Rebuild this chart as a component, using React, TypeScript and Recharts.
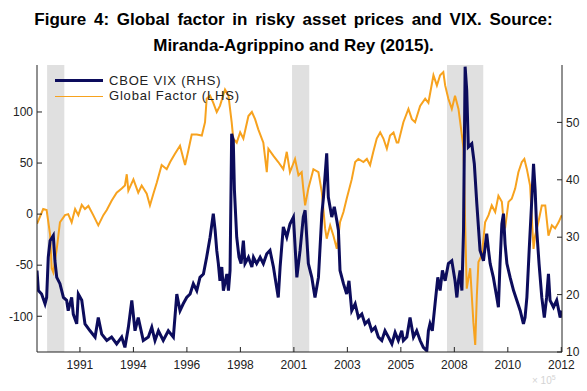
import { ComposedChart, Line, XAxis, YAxis, ReferenceArea } from 'recharts'

// ─── Data ────────────────────────────────────────────────────────────────────

const gfYears = [
  1990.06, 1990.33, 1990.48, 1990.63, 1990.7, 1990.77, 1990.92, 1991.06, 1991.28, 1991.42,
  1991.57, 1991.72, 1991.86, 1992.01, 1992.15, 1992.3, 1992.51, 1992.73, 1992.95, 1993.1,
  1993.31, 1993.53, 1993.75, 1993.89, 1993.97, 1994.04, 1994.26, 1994.47, 1994.62, 1994.84,
  1994.98, 1995.13, 1995.28, 1995.49, 1995.71, 1995.86, 1996.07, 1996.29, 1996.44, 1996.51,
  1996.65, 1996.8, 1997.02, 1997.24, 1997.38, 1997.45, 1997.6, 1997.74, 1997.89, 1998.03,
  1998.25, 1998.4, 1998.54, 1998.61, 1998.76, 1998.91, 1999.05, 1999.27, 1999.42, 1999.56,
  1999.7, 1999.92, 2000.07, 2000.14, 2000.36, 2000.57, 2000.79, 2000.94, 2001.08, 2001.3,
  2001.45, 2001.59, 2001.66, 2001.74, 2001.88, 2002.1, 2002.32, 2002.47, 2002.61, 2002.68,
  2002.83, 2002.97, 2003.12, 2003.26, 2003.41, 2003.55, 2003.77, 2003.92, 2004.06, 2004.28,
  2004.43, 2004.57, 2004.71, 2004.86, 2005.01, 2005.15, 2005.3, 2005.44, 2005.59, 2005.73,
  2005.8, 2006.02, 2006.24, 2006.39, 2006.53, 2006.75, 2006.97, 2007.11, 2007.33, 2007.48,
  2007.62, 2007.76, 2007.84, 2007.98, 2008.13, 2008.27, 2008.42, 2008.57, 2008.64, 2008.71,
  2008.78, 2008.93, 2009.07, 2009.15, 2009.22, 2009.29, 2009.44, 2009.58, 2009.73, 2009.87,
  2010.02, 2010.16, 2010.31, 2010.38, 2010.45, 2010.6, 2010.74, 2010.89, 2011.03, 2011.18,
  2011.29, 2011.4, 2011.54, 2011.69, 2011.76, 2011.9, 2012.05, 2012.2, 2012.34, 2012.49,
  2012.63, 2012.78, 2012.92,
]
const gfValues = [
  -9.5, 5, 4, -20, -53, -57, -34, -8, -1, 0,
  -8, 5, -1, 9, 5, 8, -1, -11, -1, 4,
  13, 21, 25, 28, 39, 23, 34, 21, 28, 20,
  8.5, 20, 31, 48, 44, 51, 59, 67, 54, 48,
  62, 78, 78, 77, 90, 113, 116, 109, 100, 106,
  122, 116, 90, 74, 70, 80, 74, 96, 100, 93,
  83, 70, 41, 64, 57, 51, 44, 61, 41, 54,
  38, 41, 25, 8.5, 25, 44, 41, 21, -14, -24,
  -11, -21, -34, -8, 2, 15, 34, 51, 54, 51,
  54, 48, 61, 74, 80, 74, 64, 77, 80, 70,
  70, 90, 103, 93, 90, 106, 113, 109, 136, 126,
  136, 139, 126, 113, 103, 116, 103, 77, 64, -8,
  -73, -53, -106, -128, -80, -47, -40, -8, -1, 8.5,
  2, 18, 12, -5, -14, 12, 15, 25, 41, 51,
  54, 44, 28, -34, -21, -8, 8.5, 8.5, -21, -11,
  -14, -8, -1,
]

const vixYears = [
  1990.06, 1990.12, 1990.26, 1990.41, 1990.48, 1990.55, 1990.63, 1990.77, 1990.84, 1990.92,
  1991.06, 1991.21, 1991.35, 1991.42, 1991.57, 1991.64, 1991.79, 1991.86, 1992.01, 1992.15,
  1992.37, 1992.59, 1992.73, 1992.88, 1993.1, 1993.31, 1993.53, 1993.75, 1993.89, 1994.04,
  1994.19, 1994.33, 1994.47, 1994.69, 1994.91, 1995.06, 1995.2, 1995.35, 1995.56, 1995.78,
  1996.0, 1996.15, 1996.29, 1996.43, 1996.58, 1996.73, 1996.87, 1997.02, 1997.16, 1997.31,
  1997.45, 1997.6, 1997.74, 1997.82, 1997.89, 1997.96, 1998.03, 1998.11, 1998.18, 1998.33,
  1998.4, 1998.47, 1998.54, 1998.61, 1998.66, 1998.76, 1998.86, 1998.95, 1999.05, 1999.12,
  1999.27, 1999.42, 1999.49, 1999.63, 1999.78, 1999.92, 2000.07, 2000.21, 2000.36, 2000.43,
  2000.57, 2000.65, 2000.79, 2000.94, 2001.08, 2001.23, 2001.38, 2001.52, 2001.66, 2001.74,
  2001.81, 2001.88, 2002.03, 2002.17, 2002.32, 2002.47, 2002.54, 2002.68, 2002.75, 2002.9,
  2003.01, 2003.12, 2003.19, 2003.26, 2003.41, 2003.55, 2003.65, 2003.77, 2003.92, 2004.06,
  2004.21, 2004.35, 2004.5, 2004.64, 2004.79, 2004.93, 2005.08, 2005.22, 2005.37, 2005.52,
  2005.66, 2005.8, 2005.95, 2006.02, 2006.17, 2006.31, 2006.46, 2006.6, 2006.75, 2006.89,
  2007.04, 2007.11, 2007.18, 2007.28, 2007.4, 2007.52, 2007.62, 2007.72, 2007.84, 2007.98,
  2008.13, 2008.27, 2008.35, 2008.42, 2008.49, 2008.57, 2008.64, 2008.71, 2008.78, 2008.85,
  2009.0, 2009.11, 2009.22, 2009.36, 2009.51, 2009.65, 2009.73, 2009.8, 2009.94, 2010.09,
  2010.16, 2010.23, 2010.31, 2010.38, 2010.45, 2010.53, 2010.67, 2010.82, 2010.96, 2011.11,
  2011.25, 2011.32, 2011.4, 2011.5, 2011.62, 2011.69, 2011.76, 2011.83, 2011.93, 2012.05,
  2012.16, 2012.26, 2012.34, 2012.41, 2012.56, 2012.7, 2012.85, 2012.92,
]
const vixValues = [
  24.2, 20.7, 20.1, 18.4, 19.5, 26.5, 29.4, 30.3, 25.9, 23,
  21.9, 19.5, 19, 17.2, 19.5, 16.6, 14.9, 20.1, 19, 14.9,
  13.7, 12.6, 16, 13.1, 12, 12.6, 11.4, 12.6, 10.8, 14.3,
  19, 13.7, 16, 12, 12.6, 14.3, 12, 13.7, 12, 13.7,
  12.6, 20.1, 17.2, 18.4, 19.5, 20.1, 21.9, 20.7, 23, 23.6,
  26.5, 30, 34.1, 31.2, 27.7, 25.4, 22.4, 24.8, 20.7, 23.6,
  20.7, 24.2, 48, 46.9, 38.2, 30, 26.5, 25.4, 29.4, 25.4,
  26.5, 24.8, 26.5, 25.4, 26.5, 25.4, 27.1, 27.7, 24.8, 23,
  19.5, 24.8, 31.8, 30, 32.3, 33.5, 23, 27.7, 33.5, 34.7,
  30, 25.4, 23, 19.5, 23, 34.1, 37, 44.6, 37, 33.5,
  35.3, 32.9, 31.2, 24.2, 21.9, 20.1, 22.4, 17.2, 18.4, 16,
  16.6, 14.9, 15.5, 13.7, 14.3, 12.6, 12, 13.7, 12.6, 11.4,
  13.4, 12, 13.7, 12, 12.6, 16, 12.6, 13.7, 12, 10.8,
  10.2, 13.7, 14.9, 13.7, 18.4, 23, 20.7, 24.2, 22.4, 25.4,
  25.9, 22.4, 19.5, 22.4, 24.2, 20.7, 31.2, 59.7, 55.6, 45.7,
  46.3, 42.8, 35.8, 27.7, 25.9, 30.6, 27.7, 25.4, 23, 19.5,
  17.8, 25.4, 32.3, 34.1, 28.8, 25.4, 23, 20.7, 19, 17.2,
  14.9, 16, 19.5, 27.7, 37, 42.8, 38.2, 31.2, 25.4, 19.5,
  16, 19.5, 23.6, 19, 17.8, 19, 16, 17.2,
]

const xTicks = [1991.93, 1994.26, 1996.59, 1998.92, 2001.25, 2003.58, 2005.91, 2008.24, 2010.57, 2012.9]
const xTickLabels = ['1991', '1994', '1996', '1998', '2001', '2003', '2005', '2008', '2010', '2012']
const gfTicks = [-100, -50, 0, 50, 100]
const vixTicks = [10, 20, 30, 40, 50]
const recessionStart = [1990.5, 2001.17, 2007.92]
const recessionEnd = [1991.25, 2001.92, 2009.5]

const gfData = gfYears.map((t, i) => ({ t, gf: gfValues[i] }))
const vixData = vixYears.map((t, i) => ({ t, vix: vixValues[i] }))

// ─── Styles ──────────────────────────────────────────────────────────────────

const FONT = '"Liberation Sans", Arial, sans-serif'
const NAVY = '#0c0c5c'
const ORANGE = '#f7a21e'
const AXIS = '#222'
const tickStyle = { fontSize: 12, fill: '#222', fontFamily: FONT }

function xLabel(v: number) {
  const i = xTicks.findIndex(t => Math.abs(t - v) < 0.01)
  return i >= 0 ? xTickLabels[i] : ''
}

export default function App() {
  return (
    <div style={{ position: 'absolute', left: 0, top: 0, width: 587, height: 391, background: '#fff', fontFamily: FONT }}>
      <div
        style={{
          position: 'absolute', left: 0, top: 7, width: 587, textAlign: 'center',
          fontWeight: 'bold', fontSize: 17, lineHeight: '26px', color: '#000',
        }}
      >
        <div style={{ wordSpacing: 3 }}>Figure 4: Global factor in risky asset prices and VIX. Source:</div>
        <div>Miranda-Agrippino and Rey (2015).</div>
      </div>

      <div style={{ position: 'absolute', left: 0, top: 0 }}>
        <ComposedChart width={587} height={391} margin={{ top: 65, right: 0, bottom: 9, left: 0 }}>
          <XAxis
            xAxisId="b"
            type="number"
            dataKey="t"
            domain={[1990.06, 2012.93]}
            allowDataOverflow
            ticks={xTicks}
            interval={0}
            tickFormatter={xLabel}
            tick={tickStyle}
            height={30}
            tickSize={-5}
            tickMargin={13}
            axisLine={{ stroke: AXIS }}
            tickLine={{ stroke: AXIS }}
          />
          <XAxis
            xAxisId="top"
            orientation="top"
            type="number"
            dataKey="t"
            domain={[1990.06, 2012.93]}
            allowDataOverflow
            ticks={xTicks}
            interval={0}
            tick={false}
            height={0}
            tickSize={-5}
            axisLine={{ stroke: AXIS }}
            tickLine={{ stroke: AXIS }}
          />
          <YAxis
            yAxisId="gf"
            orientation="left"
            type="number"
            domain={[-135, 146]}
            allowDataOverflow
            ticks={gfTicks}
            interval={0}
            tick={tickStyle}
            width={37}
            tickSize={-5}
            tickMargin={9}
            axisLine={{ stroke: AXIS }}
            tickLine={{ stroke: AXIS }}
          />
          <YAxis
            yAxisId="gfMirror"
            orientation="right"
            type="number"
            domain={[-135, 146]}
            allowDataOverflow
            ticks={gfTicks}
            interval={0}
            tick={false}
            width={0}
            tickSize={-5}
            axisLine={false}
            tickLine={{ stroke: AXIS }}
          />
          <YAxis
            yAxisId="vix"
            orientation="right"
            type="number"
            domain={[10, 60]}
            allowDataOverflow
            ticks={vixTicks}
            interval={0}
            tick={tickStyle}
            width={25}
            tickSize={-5}
            tickMargin={9}
            axisLine={{ stroke: AXIS }}
            tickLine={{ stroke: AXIS }}
          />

          {recessionStart.map((s, i) => (
            <ReferenceArea
              key={i}
              xAxisId="b"
              yAxisId="gf"
              x1={s}
              x2={recessionEnd[i]}
              y1={-135}
              y2={146}
              fill="#e0e0e0"
              fillOpacity={1}
              stroke="none"
              ifOverflow="hidden"
            />
          ))}

          <Line
            xAxisId="b"
            yAxisId="gf"
            data={gfData}
            dataKey="gf"
            type="linear"
            stroke={ORANGE}
            strokeWidth={2}
            dot={false}
            isAnimationActive={false}
          />
          <Line
            xAxisId="b"
            yAxisId="vix"
            data={vixData}
            dataKey="vix"
            type="linear"
            stroke={NAVY}
            strokeWidth={3}
            dot={false}
            isAnimationActive={false}
          />
        </ComposedChart>
      </div>

      {/* legend */}
      <div style={{ position: 'absolute', left: 55, top: 78.5, width: 48, height: 3, background: NAVY }} />
      <div style={{ position: 'absolute', left: 55, top: 95.5, width: 48, height: 1.5, background: ORANGE }} />
      <div style={{ position: 'absolute', left: 109, top: 72.5, fontSize: 13, letterSpacing: 0.8, color: '#222', lineHeight: '16px' }}>
        CBOE VIX (RHS)
      </div>
      <div style={{ position: 'absolute', left: 109, top: 88, fontSize: 13, letterSpacing: 0.8, color: '#222', lineHeight: '16px' }}>
        Global Factor (LHS)
      </div>
      <div style={{ position: 'absolute', left: 532, top: 374, fontSize: 10, color: '#d4d4d4' }}>
        × 10<sup style={{ fontSize: 7 }}>5</sup>
      </div>
    </div>
  )
}
